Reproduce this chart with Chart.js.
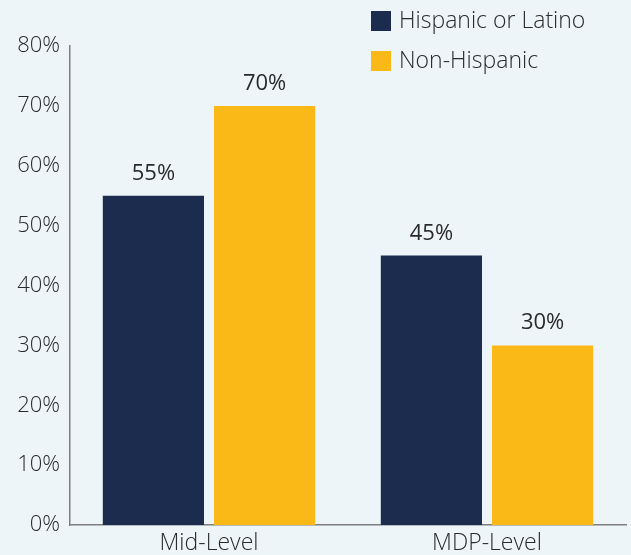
<!DOCTYPE html>
<html><head><meta charset="utf-8">
<script src="https://cdn.jsdelivr.net/npm/chart.js@4"></script>
<style>html,body{margin:0;padding:0;background:#EDF5F8;}#wrap{width:631px;height:555px;}</style>
</head><body><div id="wrap"><canvas id="c" width="631" height="555"></canvas></div>
<script>
const categories = ["Mid-Level", "MDP-Level"];
const seriesNames = ["Hispanic or Latino", "Non-Hispanic"];
const hispanic = [55, 45];
const nonHispanic = [70, 30];
const colors = ["#1B2C4E", "#FBB918"];
const FONT = "'Open Sans', Lato, sans-serif";

const labelPlugin = {
  id: 'labels',
  afterDatasetsDraw(chart) {
    const ctx = chart.ctx;
    ctx.save();
    ctx.font = "400 22px " + FONT;
    ctx.fillStyle = "#2A2A2A";
    ctx.textAlign = "center";
    ctx.textBaseline = "alphabetic";
    chart.data.datasets.forEach((ds, i) => {
      chart.getDatasetMeta(i).data.forEach((bar, j) => {
        ctx.fillText(ds.data[j] + "%", bar.x, bar.y - 16);
      });
    });
    // legend
    ctx.font = "300 23px " + FONT;
    const lx = 371, ly = [11, 51];
    seriesNames.forEach((n, i) => {
      ctx.fillStyle = colors[i];
      ctx.fillRect(lx, ly[i], 20, 20);
      ctx.fillStyle = "#2A2A2A";
      ctx.textAlign = "left";
      ctx.textBaseline = "middle";
      ctx.fillText(n, lx + 28, ly[i] + 10);
    });
    ctx.restore();
  }
};

new Chart(document.getElementById('c'), {
  type: 'bar',
  data: {
    labels: categories,
    datasets: [
      { label: seriesNames[0], data: hispanic, backgroundColor: colors[0] },
      { label: seriesNames[1], data: nonHispanic, backgroundColor: colors[1] }
    ]
  },
  options: {
    responsive: false,
    animation: false,
    layout: { padding: { top: 46, right: 5, left: 0, bottom: 0 } },
    categoryPercentage: 0.8,
    barPercentage: 0.91,
    plugins: { legend: { display: false }, tooltip: { enabled: false } },
    scales: {
      x: {
        grid: { display: false, drawTicks: false },
        border: { display: true, color: "#7F7F7F", width: 1.5 },
        ticks: { color: "#2A2A2A", font: { family: FONT, size: 23, weight: 300 }, padding: 5 },
        afterFit(s) { s.height = 30; }
      },
      y: {
        min: 0, max: 80,
        grid: { display: false, drawTicks: false },
        border: { display: true, color: "#7F7F7F", width: 1.5 },
        ticks: { stepSize: 10, color: "#2A2A2A", font: { family: FONT, size: 22, weight: 300 }, padding: 10,
          callback: v => v + "%" },
        afterFit(s) { s.width = 70; }
      }
    }
  },
  plugins: [labelPlugin]
});
</script></body></html>
